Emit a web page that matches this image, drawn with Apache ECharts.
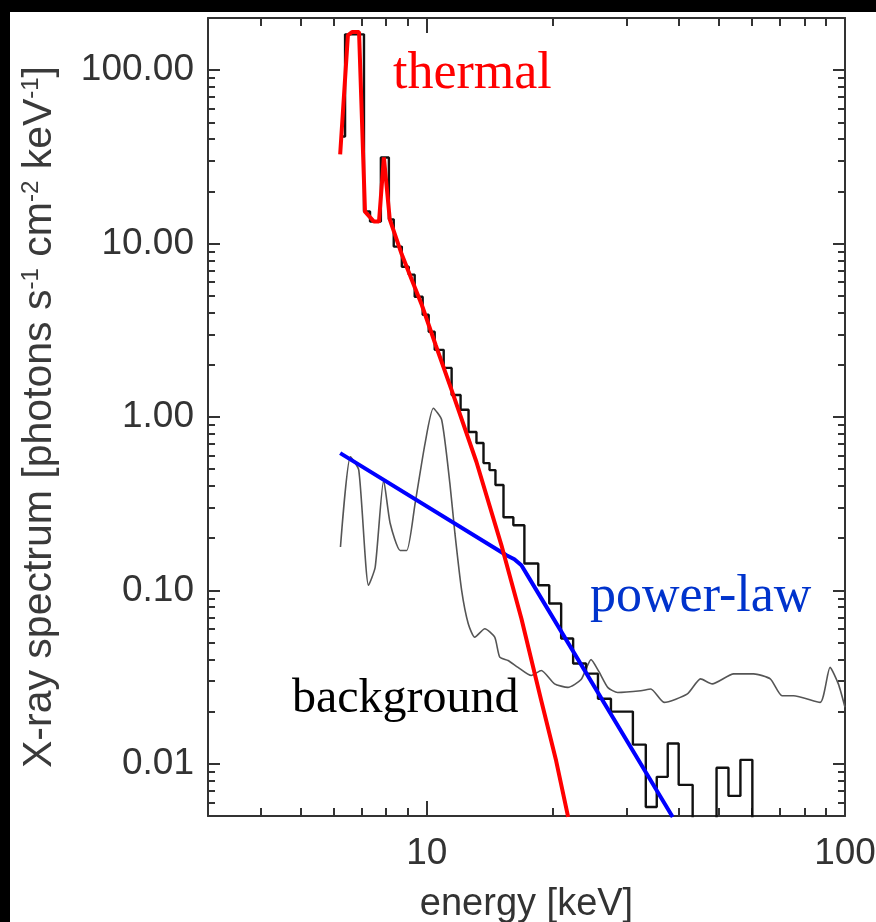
<!DOCTYPE html>
<html>
<head>
<meta charset="utf-8">
<script src="https://cdn.jsdelivr.net/npm/echarts@6/dist/echarts.min.js"></script>
<style>
html,body{margin:0;padding:0;background:#fff;}
#c{width:876px;height:922px;}
</style>
</head>
<body>
<div id="c"></div>
<script>
// ---- data (energy in keV, flux in photons s^-1 cm^-2 keV^-1) ----
const obsEnergy = [6.24, 6.38, 7.08, 7.32, 7.77, 8.12, 8.34, 8.72, 9.06, 9.36, 9.78, 10.11, 10.45, 10.98, 11.47, 12.05, 12.59, 13.15, 13.67, 14.13, 14.60, 15.26, 16.11, 17.12, 18.48, 19.63, 20.96, 22.39, 24.04, 25.67, 27.57, 31.11, 33.40, 35.48, 37.69, 40.03, 43.23, 49.31, 52.65, 56.23, 60.05, 100];
const obsFlux = [41.5, 161, 15.3, 13.4, 31.4, 13.8, 9.61, 7.36, 6.62, 4.94, 3.89, 3.10, 2.44, 1.92, 1.34, 1.10, 0.819, 0.708, 0.542, 0.494, 0.405, 0.264, 0.2375, 0.143, 0.107, 0.0841, 0.0528, 0.0379, 0.0331, 0.0237, 0.0200, 0.0129, 0.00564, 0.00841, 0.0131, 0.00756, 0.001, 0.00948, 0.00653, 0.01054, 0.001, 0.001];

const thermalEnergy = [6.21, 6.48, 6.63, 6.89, 7.12, 7.48, 7.69, 7.90, 8.16, 8.72, 9.21, 9.73, 10.50, 11.47, 13.15, 15.09, 16.84, 18.79, 20.39, 21.78];
const thermalFlux = [32.7, 159, 166, 166, 15.3, 13.4, 13.4, 31.4, 13.8, 8.64, 6.19, 4.44, 2.61, 1.43, 0.55, 0.182, 0.0689, 0.0231, 0.0104, 0.00494];

const powerEnergy = [6.21, 15.51, 16.20, 16.84, 17.59, 38.73];
const powerFlux = [0.619, 0.1594, 0.1511, 0.1395, 0.1173, 0.00494];

const bgEnergy = [6.22, 6.57, 6.88, 7.26, 7.53, 7.89, 8.18, 8.64, 8.96, 9.38, 9.91, 10.37, 10.86, 11.36, 11.68, 12.12, 12.57, 13.03, 13.77, 14.54, 14.95, 15.65, 16.53, 17.78, 18.79, 20.21, 21.75, 23.39, 24.71, 25.81, 27.12, 28.60, 32.50, 34.34, 36.94, 42.00, 45.15, 48.15, 54.20, 60.47, 66.27, 70.70, 75.31, 87.2, 92.1, 96.4, 100];
const bgFlux = [0.178, 0.590, 0.494, 0.107, 0.136, 0.432, 0.243, 0.170, 0.170, 0.317, 0.705, 1.123, 0.961, 0.414, 0.213, 0.100, 0.0642, 0.0537, 0.0601, 0.0537, 0.0412, 0.0394, 0.0360, 0.0323, 0.0345, 0.0289, 0.0276, 0.0306, 0.0399, 0.0340, 0.0275, 0.0258, 0.0264, 0.0270, 0.0226, 0.0253, 0.0309, 0.0289, 0.0330, 0.0330, 0.0309, 0.0247, 0.0247, 0.0226, 0.0360, 0.0289, 0.0212];

// ---- ticks ----
const xMajorTicks = [10, 100];
const xMinorTicks = [4, 5, 6, 7, 8, 9, 20, 30, 40, 50, 60, 70, 80, 90];
const yMajorTicks = [0.01, 0.1, 1, 10, 100];
const yMinorTicks = [0.005, 0.006, 0.007, 0.008, 0.009, 0.02, 0.03, 0.04, 0.05, 0.06, 0.07, 0.08, 0.09,
  0.2, 0.3, 0.4, 0.5, 0.6, 0.7, 0.8, 0.9, 2, 3, 4, 5, 6, 7, 8, 9, 20, 30, 40, 50, 60, 70, 80, 90, 200];

const xRange = [3, 100];
const yRange = [0.005, 200];

const zip = (a, b) => a.map((v, i) => [v, b[i]]);

const AX = '#333';
const SANS = '"Liberation Sans", Arial, sans-serif';
const SERIF = '"Liberation Serif", "Times New Roman", serif';

function xAx(position, ticks, len, main, labels) {
  return {
    type: 'log', logBase: 10, min: xRange[0], max: xRange[1], position: position,
    axisLine: {show: main, onZero: false, lineStyle: {color: AX, width: 2}},
    axisTick: {show: true, inside: true, length: len, customValues: ticks, lineStyle: {color: AX, width: 2}},
    axisLabel: labels ? {show: true, customValues: ticks, margin: 19, color: AX, fontSize: 37, fontFamily: SANS,
      formatter: v => String(Math.round(v))} : {show: false},
    splitLine: {show: false}, minorTick: {show: false}, minorSplitLine: {show: false},
    name: labels ? 'energy [keV]' : '', nameLocation: 'middle', nameGap: 70,
    nameTextStyle: {fontSize: 38, fontFamily: SANS, color: AX}
  };
}
function yAx(position, ticks, len, main, labels) {
  return {
    type: 'log', logBase: 10, min: yRange[0], max: yRange[1], position: position,
    axisLine: {show: main, onZero: false, lineStyle: {color: AX, width: 2}},
    axisTick: {show: true, inside: true, length: len, customValues: ticks, lineStyle: {color: AX, width: 2}},
    axisLabel: labels ? {show: true, customValues: ticks, margin: 14, color: AX, fontSize: 37, fontFamily: SANS,
      formatter: v => Number(v).toFixed(2)} : {show: false},
    splitLine: {show: false}, minorTick: {show: false}, minorSplitLine: {show: false},
    name: labels ? 'X-ray spectrum [photons s{sup|-1} cm{sup|-2} keV{sup|-1}]' : '',
    nameLocation: 'middle', nameRotate: 90, nameGap: 148,
    nameTextStyle: {fontSize: 41, fontFamily: SANS, color: '#3a3a3a',
      rich: {sup: {fontSize: 24, fontFamily: SANS, color: '#3a3a3a', verticalAlign: 'top'}}}
  };
}

const chart = echarts.init(document.getElementById('c'), null, {renderer: 'canvas'});
chart.setOption({
  animation: false,
  backgroundColor: '#fff',
  grid: {left: 208, right: 31, top: 18, bottom: 106, containLabel: false, outerBoundsMode: 'none'},
  xAxis: [
    xAx('bottom', xMajorTicks, 15, true, true),
    xAx('bottom', xMinorTicks, 8, false, false),
    xAx('top', xMajorTicks, 15, true, false),
    xAx('top', xMinorTicks, 8, false, false)
  ],
  yAxis: [
    yAx('left', yMajorTicks, 12, true, true),
    yAx('left', yMinorTicks, 7, false, false),
    yAx('right', yMajorTicks, 12, true, false),
    yAx('right', yMinorTicks, 7, false, false)
  ],
  series: [
    {type: 'line', name: 'background', data: zip(bgEnergy, bgFlux), xAxisIndex: 0, yAxisIndex: 0,
      showSymbol: false, smooth: 0.2, clip: true, lineStyle: {color: '#555', width: 1.6}, z: 2},
    {type: 'line', name: 'observed', data: zip(obsEnergy, obsFlux), xAxisIndex: 0, yAxisIndex: 0,
      showSymbol: false, step: 'end', clip: true, lineStyle: {color: '#111', width: 2.4}, z: 3},
    {type: 'line', name: 'power-law', data: zip(powerEnergy, powerFlux), xAxisIndex: 0, yAxisIndex: 0,
      showSymbol: false, clip: true, lineStyle: {color: '#0000ff', width: 4}, z: 4},
    {type: 'line', name: 'thermal', data: zip(thermalEnergy, thermalFlux), xAxisIndex: 0, yAxisIndex: 0,
      showSymbol: false, clip: true, lineStyle: {color: '#ff0000', width: 4}, z: 5}
  ],
  graphic: [
    {type: 'rect', shape: {x: 0, y: 0, width: 876, height: 12}, style: {fill: '#000'}, silent: true, z: 100},
    {type: 'rect', shape: {x: 0, y: 0, width: 10, height: 922}, style: {fill: '#000'}, silent: true, z: 100},
    {type: 'text', x: 393, y: 74.5, z: 100, style: {text: 'thermal', font: '52px ' + SERIF, fill: '#ff0000',
      textAlign: 'left', textVerticalAlign: 'middle', align: 'left', verticalAlign: 'middle'}},
    {type: 'text', x: 590, y: 597.5, z: 100, style: {text: 'power-law', font: '52px ' + SERIF, fill: '#0033cc',
      textAlign: 'left', textVerticalAlign: 'middle', align: 'left', verticalAlign: 'middle'}},
    {type: 'text', x: 292, y: 699, z: 100, style: {text: 'background', font: '48px ' + SERIF, fill: '#000',
      textAlign: 'left', textVerticalAlign: 'middle', align: 'left', verticalAlign: 'middle'}}
  ]
});
</script>
</body>
</html>
